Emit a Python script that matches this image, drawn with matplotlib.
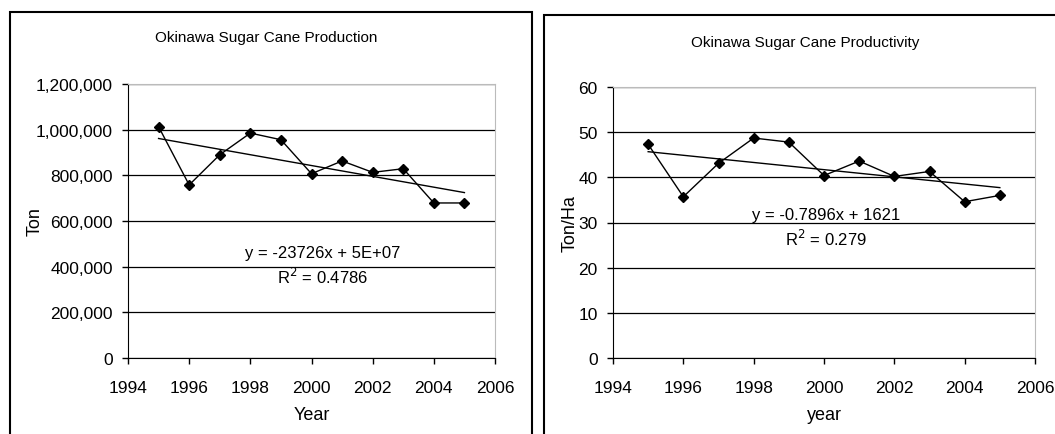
import numpy as np
import matplotlib.pyplot as plt
from matplotlib.patches import Rectangle

plt.rcParams['font.family'] = ['Liberation Sans', 'DejaVu Sans']

years = [1995, 1996, 1997, 1998, 1999, 2000, 2001, 2002, 2003, 2004, 2005]
production = [1013000, 758000, 890000, 985000, 956000, 807000,
              863000, 813000, 829000, 679000, 679000]
productivity = [47.3, 35.7, 43.1, 48.7, 47.8, 40.4, 43.6, 40.2, 41.3, 34.6, 36.0]

W, H = 1055, 435
fig = plt.figure(figsize=(W / 100, H / 100), dpi=100)


def px(x0, y0, x1, y1):
    # pixel box -> figure fraction [left, bottom, width, height]
    return [x0 / W, 1 - y1 / H, (x1 - x0) / W, (y1 - y0) / H]


# panel frames
for (x0, y0, x1) in [(10, 13, 532), (544, 16, 1060)]:
    fig.patches.append(Rectangle((x0 / W, -0.1), (x1 - x0) / W, 1 - y0 / H + 0.1,
                                 transform=fig.transFigure, fill=False,
                                 edgecolor='black', linewidth=1.5))


def panel(box, y, ymax, ystep, ylabel, ylab_x, xlabel, title, title_xy,
          eq, r2, eq_xy, fmt):
    ax = fig.add_axes(px(*box))
    x = np.array(years)
    ax.plot(x, y, color='black', linewidth=1, marker='D', markersize=5.5)
    k, b = np.polyfit(x, y, 1)
    ax.plot([x[0], x[-1]], [k * x[0] + b, k * x[-1] + b], color='black', linewidth=1)
    ax.set_xlim(1994, 2006)
    ax.set_ylim(0, ymax)
    ax.set_xticks(range(1994, 2007, 2))
    yt = np.arange(0, ymax + ystep / 2, ystep)
    ax.set_yticks(yt)
    ax.set_yticklabels([fmt(v) for v in yt])
    ax.yaxis.grid(True, color='black', linewidth=0.9)
    ax.set_axisbelow(True)
    ax.tick_params(labelsize=12.5, length=4, direction='out', width=1)
    ax.tick_params(axis='x', pad=12)
    ax.tick_params(axis='y', pad=7)
    for s in ['top', 'right']:
        ax.spines[s].set_color('#bbbbbb')
    ax.set_ylabel(ylabel, fontsize=13)
    ax.yaxis.set_label_coords(ylab_x, 0.5)
    ax.set_xlabel(xlabel, fontsize=13, labelpad=8)
    fig.text(title_xy[0] / W, 1 - title_xy[1] / H, title, fontsize=11,
             ha='center', va='center')
    ax.text(eq_xy[0], eq_xy[1], eq + '\n' + r2, ha='center', va='center',
            fontsize=12, linespacing=1.35)
    return ax


panel((128, 85, 495, 359), production, 1200000, 200000, 'Ton', -0.23, 'Year',
      'Okinawa Sugar Cane Production', (266, 38),
      'y = -23726x + 5E+07', r'R$^2$ = 0.4786', (2000.35, 405000),
      lambda v: '{:,}'.format(int(v)))
panel((613, 88, 1035, 359), productivity, 60, 10, 'Ton/Ha', -0.082, 'year',
      'Okinawa Sugar Cane Productivity', (805, 43),
      'y = -0.7896x + 1621', r'R$^2$ = 0.279', (2000.05, 28.8),
      lambda v: '{:d}'.format(int(v)))

fig.savefig('out.png', dpi=100)
